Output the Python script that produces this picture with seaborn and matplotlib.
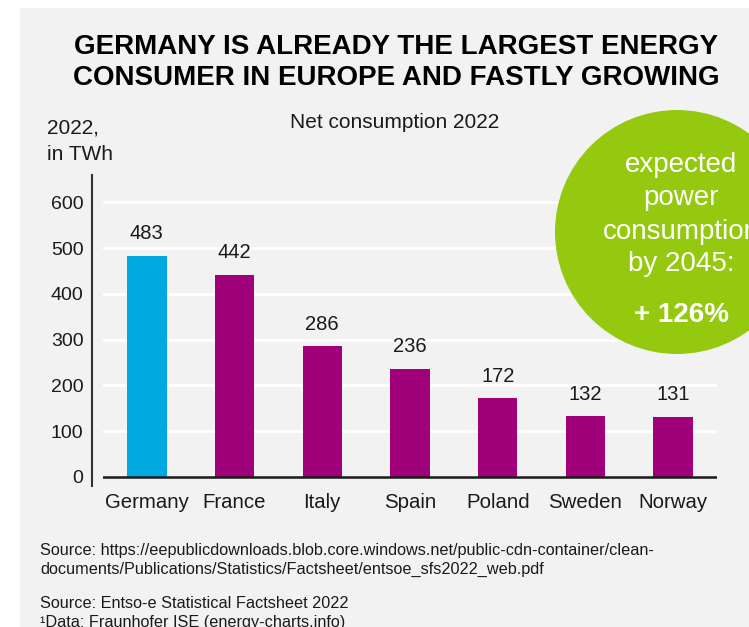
import seaborn as sns
import matplotlib.pyplot as plt
import matplotlib.patches as mpatches
import pandas as pd

countries = ["Germany", "France", "Italy", "Spain", "Poland", "Sweden", "Norway"]
consumption = [483, 442, 286, 236, 172, 132, 131]
bar_colors = ["#00A9E0", "#A0007A", "#A0007A", "#A0007A", "#A0007A", "#A0007A", "#A0007A"]
yticks = [0, 100, 200, 300, 400, 500, 600]

sns.set_style("white")
plt.rcParams["font.family"] = ["Liberation Sans", "DejaVu Sans"]

df = pd.DataFrame({"country": countries, "twh": consumption})

fig = plt.figure(figsize=(7.49, 6.27), dpi=100, facecolor="white")
# grey panel behind everything
fig.patches.append(mpatches.Rectangle((20 / 749, 0), 1, 619 / 627, transform=fig.transFigure,
                                      facecolor="#F2F2F2", edgecolor="none", zorder=-1))

ax = fig.add_axes([103 / 749, 141 / 627, 614 / 749, 311 / 627])
ax.set_facecolor("none")
sns.barplot(data=df, x="country", y="twh", hue="country", palette=bar_colors,
            width=0.45, saturation=1, linewidth=0, legend=False, ax=ax, zorder=3)
for c in ax.containers:
    ax.bar_label(c, fmt="%d", padding=9, fontsize=14.5, color="#1a1a1a")

ax.set_ylim(-20, 660)
ax.set_xlim(-0.5, 6.5)
ax.set_yticks(yticks)
for t in yticks[1:]:
    ax.axhline(t, color="white", lw=2, zorder=1)
ax.axhline(0, color="#1a1a1a", lw=1.8, zorder=4)

for s in ["top", "right", "bottom"]:
    ax.spines[s].set_visible(False)
ax.spines["left"].set_position(("outward", 8))
ax.spines["left"].set_color("#333333")
ax.spines["left"].set_linewidth(1.5)
ax.tick_params(axis="y", length=0, pad=6, labelsize=14, labelcolor="#1a1a1a")
ax.tick_params(axis="x", length=0, pad=5, labelsize=14.7, labelcolor="#1a1a1a")
ax.set_xlabel("")
ax.set_ylabel("")

# titles
fig.text(396 / 749, 1 - 47 / 627, "GERMANY IS ALREADY THE LARGEST ENERGY", ha="center", va="center",
         fontsize=20, fontweight="bold", color="black")
fig.text(396 / 749, 1 - 78 / 627, "CONSUMER IN EUROPE AND FASTLY GROWING", ha="center", va="center",
         fontsize=20, fontweight="bold", color="black")
fig.text(395 / 749, 1 - 122 / 627, "Net consumption 2022", ha="center", va="center",
         fontsize=15, color="#1a1a1a")
fig.text(47 / 749, 1 - 128 / 627, "2022,", ha="left", va="center", fontsize=15, color="#1a1a1a")
fig.text(47 / 749, 1 - 155 / 627, "in TWh", ha="left", va="center", fontsize=15, color="#1a1a1a")

# green bubble
fig.patches.append(mpatches.Circle((6.77, 3.95), 1.22, transform=fig.dpi_scale_trans,
                                   facecolor="#95C90F", edgecolor="none", zorder=5))
for txt, y in [("expected", 165), ("power", 198), ("consumption", 232), ("by 2045:", 264)]:
    fig.text(681 / 749, 1 - y / 627, txt, ha="center", va="center", fontsize=20,
             color="white", zorder=6)
fig.text(681 / 749, 1 - 315 / 627, "+ 126%", ha="center", va="center", fontsize=20,
         fontweight="bold", color="white", zorder=6)

# sources
src = dict(ha="left", va="center", fontsize=11.7, color="#1a1a1a")
fig.text(40 / 749, 1 - 550 / 627,
         "Source: https://eepublicdownloads.blob.core.windows.net/public-cdn-container/clean-", **src)
fig.text(40 / 749, 1 - 569 / 627,
         "documents/Publications/Statistics/Factsheet/entsoe_sfs2022_web.pdf", **src)
fig.text(40 / 749, 1 - 603 / 627, "Source: Entso-e Statistical Factsheet 2022", **src)
fig.text(40 / 749, 1 - 622 / 627, "\u00b9Data: Fraunhofer ISE (energy-charts.info)", **src)

fig.savefig("out.png", dpi=100, facecolor=fig.get_facecolor())
